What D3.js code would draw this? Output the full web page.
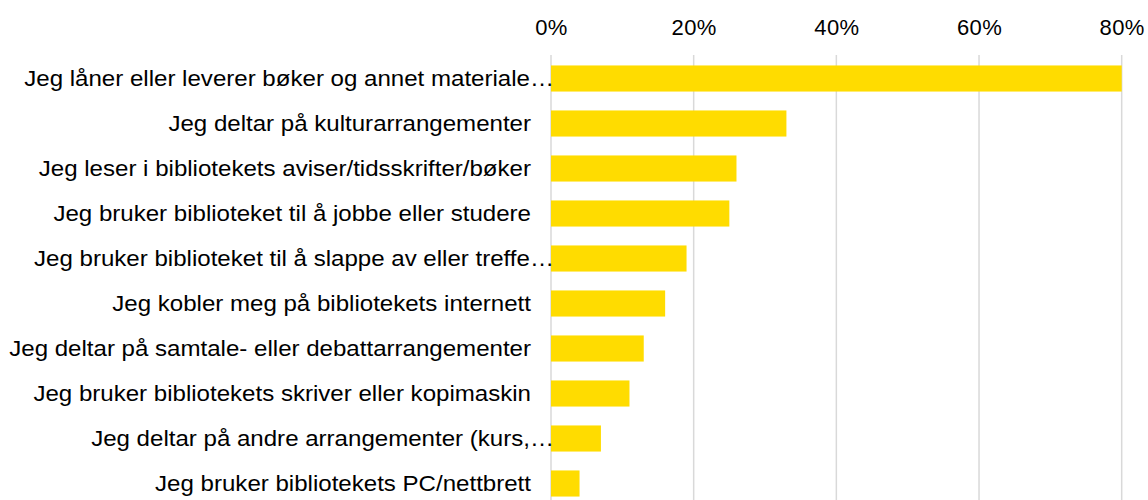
<!DOCTYPE html>
<html>
<head>
<meta charset="utf-8">
<script src="https://cdn.jsdelivr.net/npm/d3@7"></script>
<style>
  body { margin: 0; background: #fff; }
  svg { display: block; font-family: "Liberation Sans", Arial, sans-serif; }
</style>
</head>
<body>
<div id="chart"></div>
<script>
const categories = [
  "Jeg låner eller leverer bøker og annet materiale…",
  "Jeg deltar på kulturarrangementer",
  "Jeg leser i bibliotekets aviser/tidsskrifter/bøker",
  "Jeg bruker biblioteket til å jobbe eller studere",
  "Jeg bruker biblioteket til å slappe av eller treffe…",
  "Jeg kobler meg på bibliotekets internett",
  "Jeg deltar på samtale- eller debattarrangementer",
  "Jeg bruker bibliotekets skriver eller kopimaskin",
  "Jeg deltar på andre arrangementer (kurs,…",
  "Jeg bruker bibliotekets PC/nettbrett"
]
const values = [0.80, 0.33, 0.26, 0.25, 0.19, 0.16, 0.13, 0.11, 0.07, 0.04]
const tickValues = [0, 0.2, 0.4, 0.6, 0.8]

const width = 1148, height = 500
const margin = { top: 56, right: 26, bottom: -6, left: 551 }

const svg = d3.select("#chart").append("svg")
  .attr("width", width)
  .attr("height", height)

const x = d3.scaleLinear()
  .domain([0, 0.8])
  .range([margin.left, margin.left + 570.7])

const y = d3.scaleBand()
  .domain(categories)
  .range([margin.top, height - margin.bottom])
  .paddingInner(0.42)
  .paddingOuter(0.21)

// gridlines
svg.append("g")
  .selectAll("line")
  .data(tickValues)
  .join("line")
  .attr("x1", d => x(d))
  .attr("x2", d => x(d))
  .attr("y1", 55)
  .attr("y2", height)
  .attr("stroke", "#d9d9d9")
  .attr("stroke-width", 1.5)

// top axis labels
const xAxis = d3.axisTop(x)
  .tickValues(tickValues)
  .tickFormat(d3.format(".0%"))
  .tickSize(0)
  .tickPadding(0)

svg.append("g")
  .attr("transform", "translate(0,35)")
  .call(xAxis)
  .call(g => g.select(".domain").remove())
  .call(g => g.selectAll("text")
    .attr("dy", 0)
    .attr("font-size", 22)
    .attr("letter-spacing", 0.4)
    .attr("font-family", "'Liberation Sans', Arial, sans-serif")
    .attr("fill", "#000"))

// bars
svg.append("g")
  .selectAll("rect")
  .data(values)
  .join("rect")
  .attr("x", x(0))
  .attr("y", (d, i) => y(categories[i]))
  .attr("width", d => x(d) - x(0))
  .attr("height", y.bandwidth())
  .attr("fill", "#FFDC00")

// category labels (slightly wide glyphs like the original)
svg.append("g")
  .selectAll("text")
  .data(categories)
  .join("text")
  .attr("transform", d => `translate(${d.endsWith("…") ? 554 : 531},${y(d) + y.bandwidth() / 2}) scale(1.095,1)`)
  .attr("dy", "0.35em")
  .attr("text-anchor", "end")
  .attr("font-size", 22)
  .attr("fill", "#000")
  .text(d => d)
</script>
</body>
</html>
